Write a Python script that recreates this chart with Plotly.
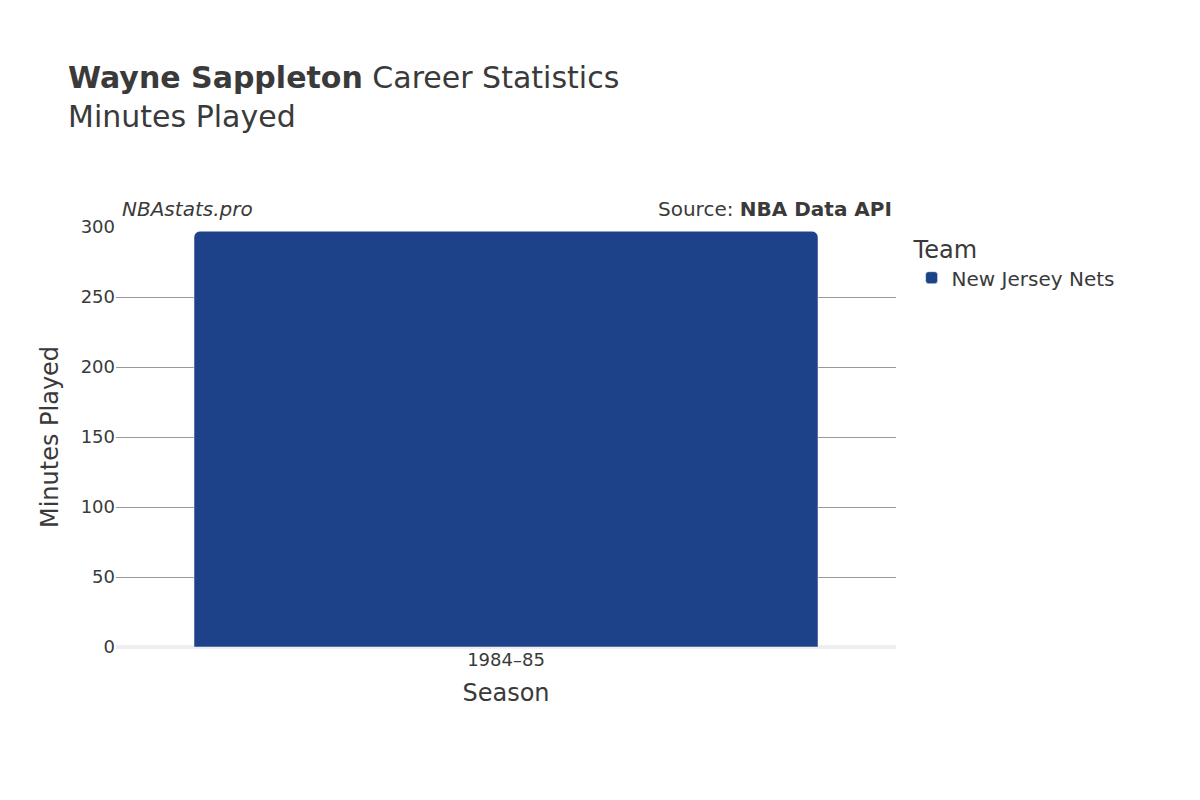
import plotly.graph_objects as go

seasons = ["1984–85"]
minutes = [297]
team = "New Jersey Nets"
team_color = "#1D428A"

fig = go.Figure()
fig.add_trace(go.Bar(
    x=seasons, y=minutes, name=team,
    marker=dict(color=team_color, cornerradius=6),
    width=0.8,
))

fig.update_layout(
    width=1200, height=800,
    template="plotly_white",
    font=dict(family="DejaVu Sans", color="#3a3a3a", size=18),
    title=dict(
        text="<b>Wayne Sappleton</b> Career Statistics<br>Minutes Played",
        x=0.05, xanchor="left", y=0.9, yanchor="top",
        font=dict(size=30),
    ),
    margin=dict(l=108, r=312, t=219, b=161),
    showlegend=True,
    legend=dict(title=dict(text="Team", font=dict(size=24)), x=1.02, y=1.0,
                yanchor="top", font=dict(size=20)),
    xaxis=dict(title=dict(text="Season", font=dict(size=24)), showgrid=False),
    yaxis=dict(title=dict(text="Minutes Played", font=dict(size=24)),
               range=[0, 300], dtick=50, gridcolor="#999999",
               zeroline=True, zerolinecolor="#eeeeee", zerolinewidth=4),
    plot_bgcolor="white",
    annotations=[
        dict(text="<i>NBAstats.pro</i>", xref="paper", yref="paper",
             x=0.005, y=1.01, xanchor="left", yanchor="bottom",
             showarrow=False, font=dict(size=20)),
        dict(text="Source: <b>NBA Data API</b>", xref="paper", yref="paper",
             x=0.997, y=1.01, xanchor="right", yanchor="bottom",
             showarrow=False, font=dict(size=20)),
    ],
)

fig.write_html("out.html")
